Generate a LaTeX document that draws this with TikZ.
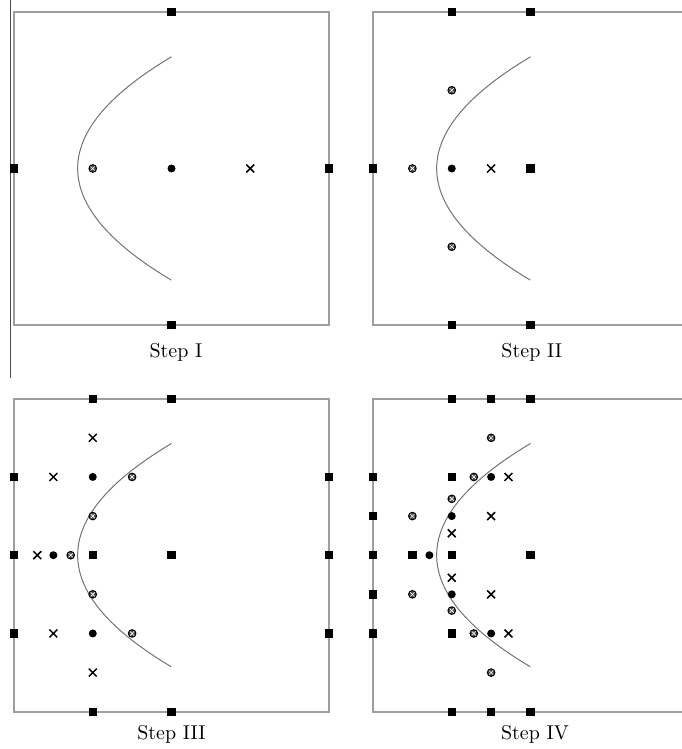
\documentclass[tikz,border=0pt]{standalone}
\usetikzlibrary{shapes.misc}

\tikzset{
  box/.style={draw=black!38, line width=0.8pt},
  curve/.style={draw=black!55, line width=0.5pt},
  sqm/.style={rectangle, fill=black, minimum size=4.2pt, inner sep=0pt},
  dotm/.style={circle, fill=black, minimum size=4pt, inner sep=0pt},
  hatm/.style={circle, draw=black, fill=black!70, line width=0.5pt, minimum size=3.8pt, inner sep=0pt,
    path picture={\draw[white, line width=0.3pt]
      (path picture bounding box.north west) -- (path picture bounding box.south east)
      (path picture bounding box.north east) -- (path picture bounding box.south west);}},
  crm/.style={cross out, draw=black, line width=0.75pt, minimum size=3.2pt, inner sep=0pt},
  panel/.style={x=157.5pt, y=-156.5pt}
}
\newcommand{\parcurve}{\draw[curve] plot[domain=-0.357:0.357, samples=41] ({0.202+2.339*\x*\x}, {0.5+\x});}

\begin{document}
\begin{tikzpicture}[x=0.5pt, y=-0.5pt]
  \useasboundingbox (0,0) rectangle (681,749);
  \draw[black!70, line width=0.6pt] (10.5,0) -- (10.5,378);

  % Step I
  \begin{scope}[shift={(14,12)}, panel]
    \draw[box] (0,0) rectangle (1,1);
    \parcurve
    \node[sqm] (I-n) at (0.5,0) {};
    \node[sqm] (I-w) at (0,0.5) {};
    \node[sqm] (I-e) at (1,0.5) {};
    \node[sqm] (I-s) at (0.5,1) {};
    \node[hatm] (I-h) at (0.25,0.5) {};
    \node[dotm] (I-d) at (0.5,0.5) {};
    \node[crm] (I-x) at (0.75,0.5) {};
    \node (I-lab) at (0.514,1.089) {Step I};
  \end{scope}

  % Step II
  \begin{scope}[shift={(373,12)}, panel]
    \draw[box] (1.05,0) -- (0,0) -- (0,1) -- (1.05,1);
    \parcurve
    \foreach \x/\y [count=\i] in {0.25/0, 0.5/0, 0/0.5, 0.5/0.5, 0.25/1, 0.5/1}
      \node[sqm] (II-s\i) at (\x,\y) {};
    \foreach \x/\y [count=\i] in {0.125/0.5, 0.25/0.25, 0.25/0.75}
      \node[hatm] (II-h\i) at (\x,\y) {};
    \node[dotm] (II-d) at (0.25,0.5) {};
    \node[crm] (II-x) at (0.375,0.5) {};
    \node (II-lab) at (0.504,1.089) {Step II};
  \end{scope}

  % Step III
  \begin{scope}[shift={(14,398.7)}, panel]
    \draw[box] (0,0) rectangle (1,1);
    \parcurve
    \foreach \x/\y [count=\i] in {0.25/0, 0.5/0, 0/0.25, 1/0.25, 0/0.5, 0.25/0.5,
        0.5/0.5, 1/0.5, 0/0.75, 1/0.75, 0.25/1, 0.5/1}
      \node[sqm] (III-s\i) at (\x,\y) {};
    \foreach \x/\y [count=\i] in {0.25/0.125, 0.125/0.25, 0.074/0.5, 0.125/0.75, 0.25/0.875}
      \node[crm] (III-x\i) at (\x,\y) {};
    \foreach \x/\y [count=\i] in {0.25/0.25, 0.125/0.5, 0.25/0.75}
      \node[dotm] (III-d\i) at (\x,\y) {};
    \foreach \x/\y [count=\i] in {0.375/0.25, 0.25/0.375, 0.18/0.5, 0.25/0.625, 0.375/0.75}
      \node[hatm] (III-h\i) at (\x,\y) {};
    \node (III-lab) at (0.5,1.071) {Step III};
  \end{scope}

  % Step IV
  \begin{scope}[shift={(373,398.7)}, panel]
    \draw[box] (1.05,0) -- (0,0) -- (0,1) -- (1.05,1);
    \parcurve
    \foreach \x/\y [count=\i] in {0.25/0, 0.375/0, 0.5/0, 0/0.25, 0.25/0.25, 0/0.375,
        0/0.5, 0.125/0.5, 0.25/0.5, 0.5/0.5, 0/0.625, 0/0.75, 0.25/0.75,
        0.25/1, 0.375/1, 0.5/1}
      \node[sqm] (IV-s\i) at (\x,\y) {};
    \foreach \x/\y [count=\i] in {0.375/0.125, 0.32/0.25, 0.25/0.32, 0.125/0.375,
        0.125/0.625, 0.25/0.677, 0.32/0.75, 0.375/0.875}
      \node[hatm] (IV-h\i) at (\x,\y) {};
    \foreach \x/\y [count=\i] in {0.375/0.25, 0.25/0.375, 0.179/0.5, 0.25/0.625, 0.375/0.75}
      \node[dotm] (IV-d\i) at (\x,\y) {};
    \foreach \x/\y [count=\i] in {0.43/0.25, 0.375/0.375, 0.25/0.43, 0.25/0.572,
        0.375/0.625, 0.43/0.75}
      \node[crm] (IV-x\i) at (\x,\y) {};
    \node (IV-lab) at (0.514,1.071) {Step IV};
  \end{scope}
\end{tikzpicture}
\end{document}
